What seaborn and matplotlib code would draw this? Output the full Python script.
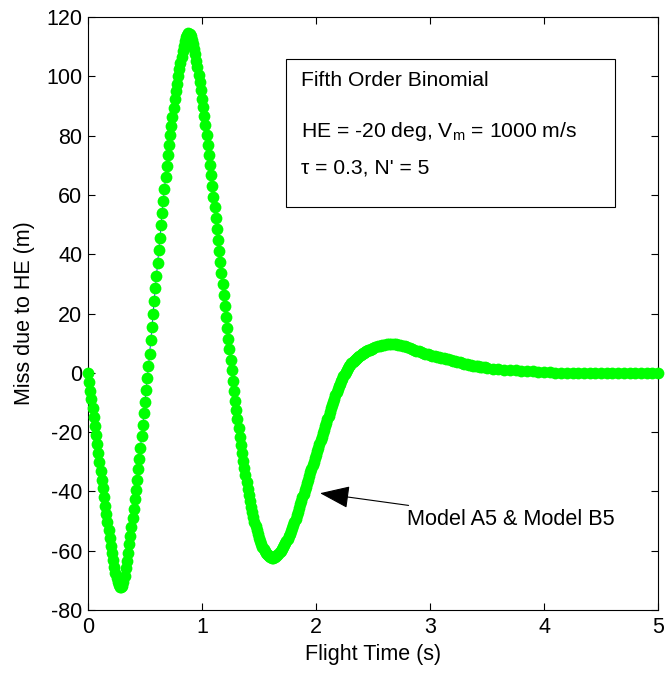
import numpy as np
import matplotlib
matplotlib.use("Agg")
import matplotlib.pyplot as plt
import seaborn as sns
from matplotlib.patches import Rectangle

miss_a = [
    0.0, -3.0, -6.0, -9.0, -12.0, -15.0, -18.0, -21.0, -24.0, -27.0,
    -30.0, -33.0, -36.0, -39.0, -41.9, -44.8, -47.6, -50.4, -53.1, -55.8,
    -58.4, -60.9, -63.3, -65.5, -67.5, -69.2, -70.6, -71.6, -72.2, -72.4,
    -71.8, -70.4, -68.4, -66.0, -63.4, -60.7, -57.9, -55.0, -52.0, -49.0,
    -45.9, -42.7, -39.4, -36.0, -32.5, -28.9, -25.2, -21.4, -17.6, -13.7,
    -9.8, -5.8, -1.8, 2.2, 6.4, 10.9, 15.4, 19.8, 24.2, 28.5,
    32.8, 37.1, 41.4, 45.6, 49.8, 54.0, 58.1, 62.1, 66.0, 69.8,
    73.3, 76.8, 80.1, 83.2, 86.3, 89.3, 92.2, 94.9, 97.5, 100.0,
    102.4, 104.6, 106.6, 108.5, 110.2, 111.8, 113.1, 114.1, 114.5, 114.2,
    113.5, 112.4, 111.0, 109.3, 107.4, 105.3, 103.0, 100.6, 98.0, 95.3,
    92.5, 89.6, 86.6, 83.5, 80.3, 77.0, 73.6, 70.1, 66.6, 63.0,
    59.4, 55.8, 52.1, 48.4, 44.7, 41.0, 37.3, 33.6, 29.9, 26.2,
    22.5, 18.8, 15.1, 11.5, 7.9, 4.3, 0.8, -2.7, -6.1, -9.4,
    -12.6, -15.7, -18.7, -21.6, -24.4, -27.1, -29.7, -32.2, -34.6, -36.9,
    -39.1, -41.2, -43.2, -45.1, -46.9, -48.6, -50.2, -51.7, -53.1, -54.4,
    -55.6, -56.7, -57.7, -58.6, -59.4, -60.1, -60.7, -61.2, -61.6, -61.9,
    -62.1, -62.3, -62.3, -62.2, -62.0, -61.8, -61.5, -61.1, -60.6, -60.1,
    -59.5, -58.9, -58.2, -57.5, -56.7, -55.9, -55.1, -54.2, -53.3, -52.4,
    -51.4, -50.3, -49.2, -48.0, -46.8, -45.6, -44.4, -43.2, -42.0, -40.8,
    -39.6, -38.4, -37.2, -36.0, -34.8, -33.6, -32.4, -31.2, -30.0, -28.8,
    -27.6, -26.4, -25.2, -24.0, -22.8, -21.6, -20.4, -19.2, -18.0, -16.8,
    -15.6, -14.4, -13.2, -12.0, -10.9, -9.8, -8.7, -7.6, -6.6, -5.6,
    -4.6, -3.7, -2.8, -2.0, -1.2, -0.4, 0.3, 1.0, 1.6, 2.2,
    2.7, 3.2, 3.6, 4.0, 4.4, 4.8, 5.1, 5.4, 5.7, 6.0,
    6.3, 6.6, 6.8, 7.0, 7.2, 7.4, 7.6, 7.8, 8.0, 8.2,
    8.4,
]
# 2.52 .. 3.50 s, every 0.02 s
miss_b = [
    8.6, 8.9, 9.1, 9.3, 9.5, 9.6, 9.7, 9.7, 9.7, 9.6,
    9.5, 9.4, 9.2, 9.0, 8.7, 8.4, 8.1, 7.8, 7.5, 7.2,
    7.0, 6.7, 6.5, 6.2, 6.0, 5.8, 5.6, 5.4, 5.2, 5.0,
    4.9, 4.7, 4.5, 4.3, 4.1, 3.9, 3.7, 3.5, 3.3, 3.1,
    2.9, 2.7, 2.5, 2.4, 2.3, 2.2, 2.1, 1.9, 1.8, 1.6,
]
# 3.55 .. 5.00 s, every 0.05 s
miss_c = [
    1.4, 1.2, 1.0, 0.9, 0.8, 0.7, 0.6, 0.5, 0.4, 0.3,
    0.2, 0.0, 0.0, 0.0, 0.0, 0.0, 0.0, 0.0, 0.0, 0.0,
    0.0, 0.0, 0.0, 0.0, 0.0, 0.0, 0.0, 0.0, 0.0, 0.0,
]

# sampling times of the three pieces above
t_a = np.round(np.arange(0, 2.505, 0.01), 2)
t_b = np.round(np.arange(2.52, 3.505, 0.02), 2)
t_c = np.round(np.arange(3.55, 5.001, 0.05), 2)

t = np.concatenate([t_a, t_b, t_c])
miss = np.array(miss_a + miss_b + miss_c)

box_lines = ["Fifth Order Binomial",
             r"HE = -20 deg, V$_\mathrm{m}$ = 1000 m/s",
             "\u03c4 = 0.3, N' = 5"]

sns.set_style("ticks")
plt.rcParams["font.family"] = ["Liberation Sans", "DejaVu Sans"]
plt.rcParams["mathtext.fontset"] = "custom"
plt.rcParams["mathtext.rm"] = "Liberation Sans"
plt.rcParams["mathtext.it"] = "Liberation Sans:italic"
plt.rcParams["axes.unicode_minus"] = False
plt.rcParams["text.color"] = "black"
plt.rcParams["axes.labelcolor"] = "black"

fig = plt.figure(figsize=(6.67, 6.73), dpi=100)
ax = fig.add_axes([0.132, 0.0936, 0.8546, 0.8811])

sns.lineplot(x=t, y=miss, ax=ax, color="blue", lw=0.6, sort=False,
             estimator=None, zorder=2)
sns.scatterplot(x=t, y=miss, ax=ax, color=(0, 1, 0), s=72, linewidth=0,
                zorder=3, clip_on=False)

ax.set_xlim(0, 5)
ax.set_ylim(-80, 120)
ax.set_xticks(range(0, 6))
ax.set_yticks(range(-80, 121, 20))
ax.tick_params(direction="in", top=True, right=True, length=5, width=0.8,
               labelsize=15.5, colors="black")
ax.tick_params(axis="x", pad=5)
ax.tick_params(axis="y", pad=4)
for s in ax.spines.values():
    s.set_linewidth(0.8)
    s.set_color("black")

ax.set_xlabel("Flight Time (s)", fontsize=15.5, labelpad=4)
ax.set_ylabel("Miss due to HE (m)", fontsize=15.5, labelpad=8)

# text box
ax.add_patch(Rectangle((1.737, 55.9), 2.886, 49.9, facecolor="white",
                       edgecolor="black", lw=0.8, zorder=4))
for txt, yy in zip(box_lines, [96.8, 79.6, 67.3]):
    ax.text(1.865, yy, txt, fontsize=15.2, va="baseline", ha="left", zorder=5)

ax.annotate("Model A5 & Model B5", xy=(2.035, -40.6), xytext=(2.80, -49.5),
            fontsize=15.6, va="center", ha="left",
            arrowprops=dict(arrowstyle="-|>,head_length=0.85,head_width=0.32",
                            mutation_scale=22, color="black", lw=0.8,
                            shrinkA=2, shrinkB=0))

fig.savefig("out.png", dpi=100)
